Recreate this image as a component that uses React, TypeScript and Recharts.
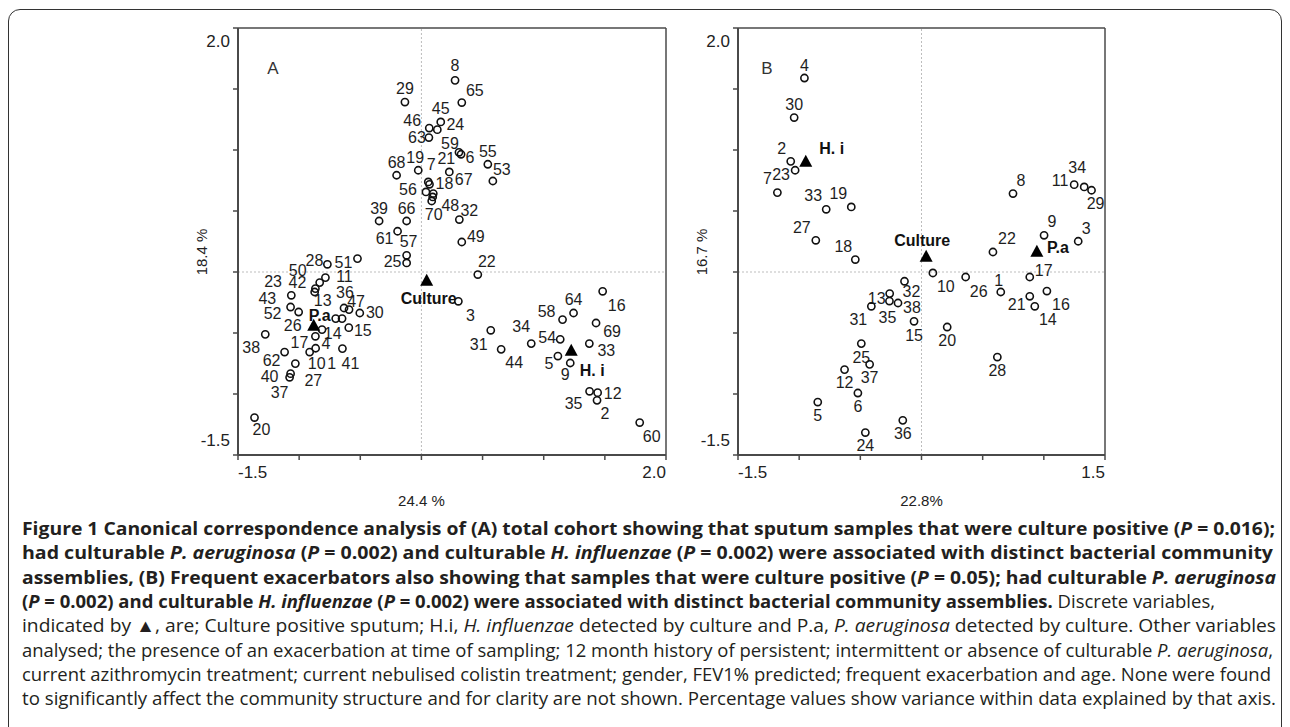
import { ScatterChart, Scatter, XAxis, YAxis, ReferenceLine } from "recharts";

// sample scores (id, axis 1, axis 2)
const SAMPLES_A: [string, number, number][] = [
  ["1", -0.865, -0.625], ["2", 1.436, -1.052], ["3", 0.302, -0.24], ["4", -0.813, -0.472],
  ["5", 1.116, -0.689], ["6", 0.324, 0.965], ["7", 0.056, 0.738], ["8", 0.275, 1.571],
  ["9", 1.217, -0.746], ["10", -0.914, -0.656], ["11", -0.785, -0.046], ["12", 1.441, -0.989],
  ["13", -0.873, -0.164], ["14", -0.701, -0.382], ["15", -0.594, -0.456], ["16", 1.482, -0.158],
  ["17", -0.867, -0.527], ["18", 0.066, 0.719], ["19", -0.026, 0.834], ["20", -1.365, -1.193],
  ["21", 0.228, 0.82], ["22", 0.461, -0.021], ["23", -0.649, -0.382], ["24", 0.13, 1.167],
  ["25", -0.121, 0.074], ["26", -1.004, -0.328], ["27", -1.031, -0.751], ["28", -0.769, 0.063],
  ["29", -0.135, 1.393], ["30", -0.504, -0.336], ["31", 0.567, -0.478], ["32", 0.31, 0.43],
  ["33", 1.373, -0.587], ["34", 0.898, -0.587], ["35", 1.375, -0.978], ["36", -0.633, -0.295],
  ["37", -1.078, -0.863], ["38", -1.277, -0.511], ["39", -0.346, 0.418], ["40", -1.07, -0.833],
  ["41", -0.646, -0.628], ["42", -0.867, -0.136], ["43", -1.064, -0.191], ["44", 0.652, -0.634],
  ["45", 0.158, 1.23], ["46", 0.064, 1.18], ["47", -0.592, -0.308], ["48", 0.097, 0.643],
  ["49", 0.33, 0.246], ["50", -0.832, -0.087], ["51", -0.523, 0.11], ["52", -1.07, -0.287],
  ["53", 0.584, 0.746], ["54", 1.135, -0.552], ["55", 0.543, 0.883], ["56", 0.037, 0.656],
  ["57", -0.121, 0.137], ["58", 1.154, -0.39], ["59", 0.307, 0.981], ["60", 1.785, -1.234],
  ["61", -0.195, 0.334], ["62", -1.119, -0.656], ["63", 0.061, 1.102], ["64", 1.244, -0.336],
  ["65", 0.33, 1.389], ["66", -0.121, 0.418], ["67", 0.092, 0.615], ["68", -0.203, 0.793],
  ["69", 1.428, -0.418], ["70", 0.084, 0.582],
];

const SAMPLES_B: [string, number, number][] = [
  ["1", 0.648, -0.164], ["2", -1.069, 0.907], ["3", 1.281, 0.252], ["4", -0.957, 1.59],
  ["5", -0.848, -1.066], ["6", -0.52, -0.992], ["7", -1.178, 0.651], ["8", 0.748, 0.643],
  ["9", 1.002, 0.301], ["10", 0.093, -0.008], ["11", 1.248, 0.716], ["12", -0.629, -0.8],
  ["13", -0.26, -0.177], ["14", 0.926, -0.281], ["15", -0.061, -0.404], ["16", 1.025, -0.156],
  ["17", 0.885, -0.041], ["18", -0.541, 0.102], ["19", -0.574, 0.533], ["20", 0.21, -0.451],
  ["21", 0.885, -0.199], ["22", 0.584, 0.164], ["23", -1.033, 0.834], ["24", -0.459, -1.316],
  ["25", -0.492, -0.587], ["26", 0.361, -0.041], ["27", -0.864, 0.26], ["28", 0.62, -0.697],
  ["29", 1.39, 0.67], ["30", -1.041, 1.266], ["31", -0.41, -0.281], ["32", -0.139, -0.076],
  ["33", -0.779, 0.514], ["34", 1.33, 0.697], ["35", -0.262, -0.238], ["36", -0.153, -1.216],
  ["37", -0.424, -0.757], ["38", -0.192, -0.254],
];

// discrete variables (centroids)
const MARKERS_A: [string, number, number][] = [
  ["Culture", 0.043, -0.068], ["P.a", -0.881, -0.437], ["H. i", 1.225, -0.641],
];
const MARKERS_B: [string, number, number][] = [
  ["Culture", 0.038, 0.129], ["P.a", 0.943, 0.17], ["H. i", -0.946, 0.907],
];

const X_TICKS_A = [-1.5, -1, -0.5, 0, 0.5, 1, 1.5, 2];
const X_TICKS_B = [-1.5, -1, -0.5, 0, 0.5, 1, 1.5];
const Y_TICKS = [-1.5, -1, -0.5, 0, 0.5, 1, 1.5, 2];

// label placement, px from the point (placement only)
const LABEL_POS_A: Record<string, [number, number]> = {
  "1": [16, 15], "2": [8, 13], "3": [12, 14], "4": [4, 14], "5": [-9, 7], "6": [9, 3], "7": [3, -17],
  "8": [0, -15], "9": [-5, 11], "10": [7, 11], "11": [19, -1], "12": [15, 1], "13": [8, 8],
  "14": [-3, 15], "15": [14, 3], "16": [14, 14], "17": [-16, 6], "18": [15, -1], "19": [-3, -13],
  "20": [7, 12], "21": [-3, -13], "22": [9, -13], "23": [-69, -37], "24": [18, -5], "25": [-14, -1],
  "26": [-6, 13], "27": [18, 17], "28": [-13, -4], "29": [0, -14], "30": [15, 0], "31": [-12, 14],
  "32": [10, -9], "33": [17, 7], "34": [-10, -17], "35": [-16, 12], "36": [1, -15], "37": [-10, 15],
  "38": [-14, 13], "39": [0, -13], "40": [-21, 3], "41": [8, 15], "42": [-18, -6], "43": [-24, 3],
  "44": [13, 13], "45": [0, -13], "46": [-17, -8], "47": [7, -8], "48": [17, 12], "49": [14, -5],
  "50": [-22, -12], "51": [-14, 4], "52": [-18, 6], "53": [9, -11], "54": [-13, -2], "55": [0, -13],
  "56": [-18, -2], "57": [2, -14], "58": [-16, -8], "59": [-9, -9], "60": [12, 14], "61": [-13, 7],
  "62": [-13, 8], "63": [-12, 0], "64": [0, -13], "65": [13, -12], "66": [0, -13], "67": [31, -17],
  "68": [0, -13], "69": [16, 9], "70": [2, 14],
};
const LABEL_POS_B: Record<string, [number, number]> = {
  "1": [-2, -12], "2": [-9, -13], "3": [8, -13], "4": [0, -13], "5": [0, 13], "6": [0, 13],
  "7": [-10, -14], "8": [8, -13], "9": [8, -14], "10": [13, 14], "11": [-14, -4], "12": [0, 13],
  "13": [-13, 5], "14": [13, 13], "15": [0, 14], "16": [14, 13], "17": [14, -7], "18": [-12, -13],
  "19": [-13, -13], "20": [0, 13], "21": [-13, 8], "22": [14, -13], "23": [-14, 4], "24": [0, 13],
  "25": [0, 14], "26": [13, 14], "27": [-14, -13], "28": [0, 13], "29": [4, 13], "30": [0, -13],
  "31": [-13, 13], "32": [7, 10], "33": [-13, -14], "34": [-7, -19], "35": [-2, 16], "36": [0, 13],
  "37": [0, 13], "38": [14, 5],
};
const MARKER_POS_A: Record<string, [number, number]> = {
  Culture: [2, 18], "P.a": [6, -10], "H. i": [21, 20],
};
const MARKER_POS_B: Record<string, [number, number]> = {
  Culture: [-4, -16], "P.a": [21, -4], "H. i": [26, -13],
};

const FONT = '"Liberation Sans", Arial, sans-serif';
const INK = "#1e1e1e";
const AXIS = "#4a4a4a";

const toRows = (arr: [string, number, number][]) => arr.map(([id, x, y]) => ({ id, x, y }));

const sampleShape = (pos: Record<string, [number, number]>) => (props: any) => {
  const { cx, cy, payload } = props;
  const [dx, dy] = pos[payload.id] ?? [0, -13];
  return (
    <g>
      <circle cx={cx} cy={cy} r={3.6} fill="none" stroke="#111" strokeWidth={1.6} />
      <text x={cx + dx} y={cy + dy} textAnchor="middle" dominantBaseline="central"
        fontSize={16} fontFamily={FONT} fill={INK}>{payload.id}</text>
    </g>
  );
};

const markerShape = (pos: Record<string, [number, number]>) => (props: any) => {
  const { cx, cy, payload } = props;
  const [dx, dy] = pos[payload.id] ?? [0, -14];
  return (
    <g>
      <path d={`M${cx},${cy - 6.5} L${cx + 6.5},${cy + 5.5} L${cx - 6.5},${cy + 5.5} Z`} fill="#000" />
      <text x={cx + dx} y={cy + dy} textAnchor="middle" dominantBaseline="central"
        fontSize={16} fontWeight="bold" fontFamily={FONT} fill="#111">{payload.id}</text>
    </g>
  );
};

function Panel(props: {
  left: number; width: number; marginLeft: number; letterX: number;
  samples: [string, number, number][]; markers: [string, number, number][];
  labelPos: Record<string, [number, number]>; markerPos: Record<string, [number, number]>;
  xTicks: number[]; xTitle: string; yTitle: string; letter: string;
}) {
  const { xTicks } = props;
  const xMin = xTicks[0];
  const xMax = xTicks[xTicks.length - 1];
  const height = 530;
  const yAxisW = 40;
  const xAxisH = 30;
  const plotW = Math.round((xMax - xMin) * 122.3);
  const margin = {
    top: 28,
    left: props.marginLeft - yAxisW,
    right: props.width - props.marginLeft - plotW,
    bottom: 75 - xAxisH,
  };

  const xTick = (p: any) => {
    const v = p.payload.value;
    if (v !== xMin && v !== xMax) return <g />;
    return (
      <text x={p.x} y={p.y + 10} textAnchor={v === xMin ? "start" : "end"} dominantBaseline="central"
        fontSize={17} fontFamily={FONT} fill="#222">{v.toFixed(1)}</text>
    );
  };
  const yTick = (p: any) => {
    const v = p.payload.value;
    if (v !== Y_TICKS[0] && v !== Y_TICKS[Y_TICKS.length - 1]) return <g />;
    return (
      <text x={p.x - 1} y={p.y + (v === Y_TICKS[0] ? -15 : 13)} textAnchor="end" dominantBaseline="central"
        fontSize={17} fontFamily={FONT} fill="#222">{v.toFixed(1)}</text>
    );
  };

  return (
    <div style={{ position: "absolute", left: props.left, top: 0 }}>
      <ScatterChart width={props.width} height={height} margin={margin}>
        <XAxis type="number" dataKey="x" domain={[xMin, xMax]} ticks={xTicks} allowDataOverflow
          height={xAxisH} tickSize={5} tickMargin={2} tick={xTick}
          axisLine={{ stroke: AXIS, strokeWidth: 2 }} tickLine={{ stroke: AXIS, strokeWidth: 1.5 }} />
        <YAxis type="number" dataKey="y" domain={[Y_TICKS[0], Y_TICKS[Y_TICKS.length - 1]]} ticks={Y_TICKS}
          allowDataOverflow width={yAxisW} tickSize={5} tickMargin={2} tick={yTick}
          axisLine={{ stroke: AXIS, strokeWidth: 2 }} tickLine={{ stroke: AXIS, strokeWidth: 1.5 }} />
        <ReferenceLine x={0} stroke="#bdbdbd" strokeDasharray="2 2"
          label={(p: any) => (
            <text x={p.viewBox.x} y={p.viewBox.y + p.viewBox.height + 45} textAnchor="middle"
              dominantBaseline="central" fontSize={15} fontFamily={FONT} fill="#222">{props.xTitle}</text>
          )} />
        <ReferenceLine y={0} stroke="#bdbdbd" strokeDasharray="2 2"
          label={(p: any) => (
            <text x={p.viewBox.x - 37} y={p.viewBox.y - 20} textAnchor="middle" dominantBaseline="central"
              transform={`rotate(-90 ${p.viewBox.x - 37} ${p.viewBox.y - 20})`}
              fontSize={15} fontFamily={FONT} fill="#222">{props.yTitle}</text>
          )} />
        <ReferenceLine y={Y_TICKS[Y_TICKS.length - 1]} stroke={AXIS} strokeWidth={1.5}
          label={(p: any) => (
            <text x={p.viewBox.x + props.letterX} y={p.viewBox.y + 40} textAnchor="middle" dominantBaseline="central"
              fontSize={17} fontFamily={FONT} fill="#333">{props.letter}</text>
          )} />
        <ReferenceLine x={xMax} stroke={AXIS} strokeWidth={1.5} />
        <Scatter data={toRows(props.samples)} shape={sampleShape(props.labelPos)} isAnimationActive={false} />
        <Scatter data={toRows(props.markers)} shape={markerShape(props.markerPos)} isAnimationActive={false} />
      </ScatterChart>
    </div>
  );
}

type Seg = [string, string];
const CAPTION: Seg[][] = [
  [["b", "Figure 1 Canonical correspondence analysis of (A) total cohort showing that sputum samples that were culture positive ("], ["bi", "P"], ["b", " = 0.016);"]],
  [["b", "had culturable "], ["bi", "P. aeruginosa"], ["b", " ("], ["bi", "P"], ["b", " = 0.002) and culturable "], ["bi", "H. influenzae"], ["b", " ("], ["bi", "P"], ["b", " = 0.002) were associated with distinct bacterial community"]],
  [["b", "assemblies, (B) Frequent exacerbators also showing that samples that were culture positive ("], ["bi", "P"], ["b", " = 0.05); had culturable "], ["bi", "P. aeruginosa"]],
  [["b", "("], ["bi", "P"], ["b", " = 0.002) and culturable "], ["bi", "H. influenzae"], ["b", " ("], ["bi", "P"], ["b", " = 0.002) were associated with distinct bacterial community assemblies."], ["r", " Discrete variables,"]],
  [["r", "indicated by ▲, are; Culture positive sputum; H.i, "], ["i", "H. influenzae"], ["r", " detected by culture and P.a, "], ["i", "P. aeruginosa"], ["r", " detected by culture. Other variables"]],
  [["r", "analysed; the presence of an exacerbation at time of sampling; 12 month history of persistent; intermittent or absence of culturable "], ["i", "P. aeruginosa"], ["r", ","]],
  [["r", "current azithromycin treatment; current nebulised colistin treatment; gender, FEV1% predicted; frequent exacerbation and age. None were found"]],
  [["r", "to significantly affect the community structure and for clarity are not shown. Percentage values show variance within data explained by that axis."]],
];
const CAPTION_RIGHT = [1275, 1273, 1276, 1215, 1276, 1273, 1271, 1276];

function Caption() {
  const x0 = 22;
  return (
    <svg width={1290} height={727} style={{ position: "absolute", left: 0, top: 0 }}>
      {CAPTION.map((line, i) => (
        <text key={i} x={x0} y={535 + i * 24.3} textLength={CAPTION_RIGHT[i] - x0} lengthAdjust="spacingAndGlyphs"
          fontSize={18} fontFamily='"Open Sans", sans-serif' fill="#231f20">
          {line.map(([s, t], j) => (
            <tspan key={j} fontWeight={s.includes("b") ? "bold" : "normal"} fontStyle={s.includes("i") ? "italic" : "normal"}>{t}</tspan>
          ))}
        </text>
      ))}
    </svg>
  );
}

export default function App() {
  return (
    <div style={{ position: "absolute", left: 0, top: 0, width: 1290, height: 727, overflow: "hidden", background: "#fff" }}>
      <div style={{ position: "absolute", left: 8, top: 9, width: 1272, height: 760, border: "1.5px solid #333", borderRadius: 12 }} />
      <Panel left={150} width={540} marginLeft={88} letterX={35} samples={SAMPLES_A} markers={MARKERS_A}
        labelPos={LABEL_POS_A} markerPos={MARKER_POS_A} xTicks={X_TICKS_A} xTitle="24.4 %" yTitle="18.4 %" letter="A" />
      <Panel left={660} width={470} marginLeft={78} letterX={29} samples={SAMPLES_B} markers={MARKERS_B}
        labelPos={LABEL_POS_B} markerPos={MARKER_POS_B} xTicks={X_TICKS_B} xTitle="22.8%" yTitle="16.7 %" letter="B" />
      <Caption />
    </div>
  );
}
